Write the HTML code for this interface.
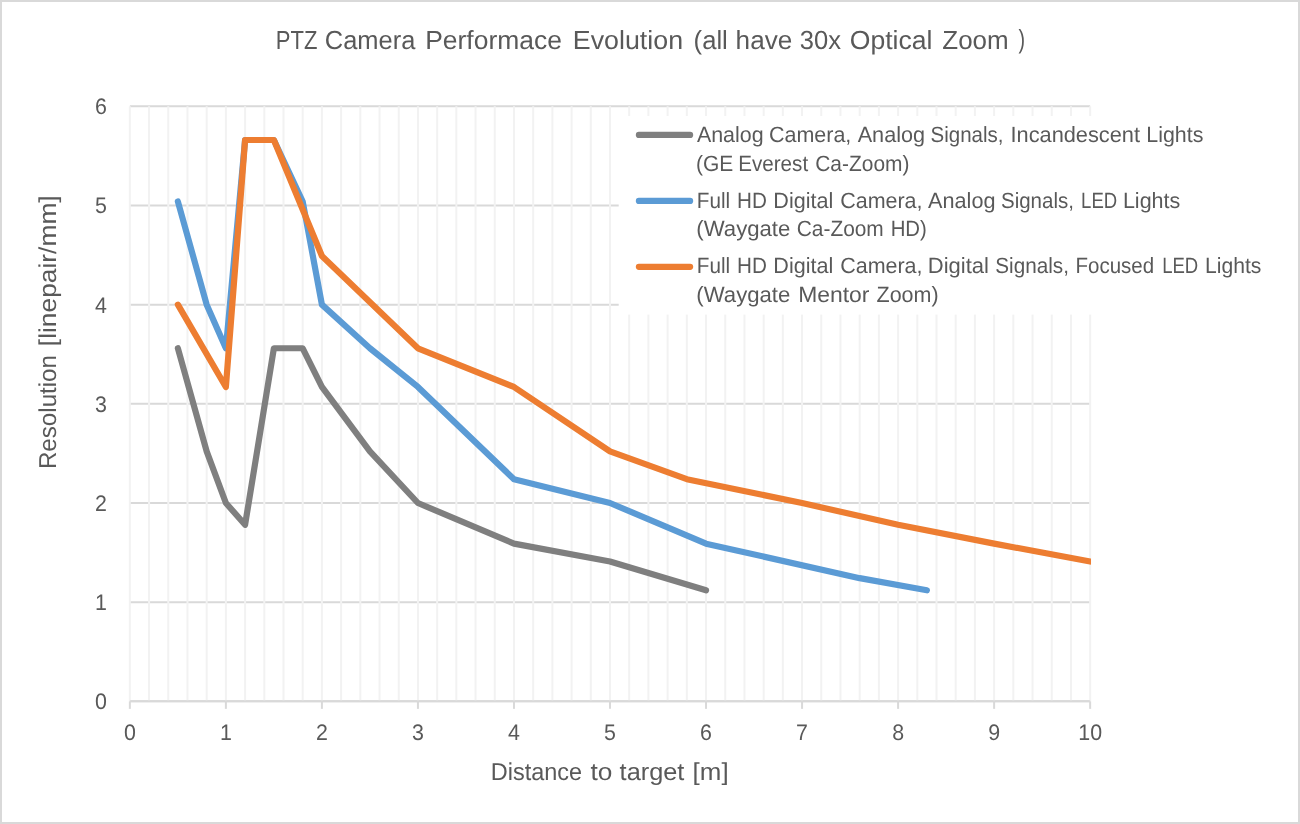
<!DOCTYPE html>
<html><head><meta charset="utf-8"><style>
html,body{margin:0;padding:0;background:#fff;}
body{width:1300px;height:824px;overflow:hidden;}
svg{display:block;will-change:transform;}
text{font-family:"Liberation Sans",sans-serif;fill:#595959;text-rendering:geometricPrecision;}
</style></head><body>
<svg width="1300" height="824" viewBox="0 0 1300 824">
<rect x="0" y="0" width="1300" height="824" fill="#d9d9d9"/>
<rect x="2" y="2" width="1296" height="820" fill="#ffffff"/>
<line x1="129.85" y1="701.35" x2="1090.15" y2="701.35" stroke="#d9d9d9" stroke-width="2"/>
<line x1="129.85" y1="602.17" x2="1090.15" y2="602.17" stroke="#d9d9d9" stroke-width="2"/>
<line x1="129.85" y1="502.99" x2="1090.15" y2="502.99" stroke="#d9d9d9" stroke-width="2"/>
<line x1="129.85" y1="403.81" x2="1090.15" y2="403.81" stroke="#d9d9d9" stroke-width="2"/>
<line x1="129.85" y1="304.63" x2="1090.15" y2="304.63" stroke="#d9d9d9" stroke-width="2"/>
<line x1="129.85" y1="205.45" x2="1090.15" y2="205.45" stroke="#d9d9d9" stroke-width="2"/>
<line x1="129.85" y1="106.27" x2="1090.15" y2="106.27" stroke="#d9d9d9" stroke-width="2"/>
<line x1="129.85" y1="106.27" x2="129.85" y2="701.35" stroke="#f2f2f2" stroke-width="2"/>
<line x1="149.06" y1="106.27" x2="149.06" y2="701.35" stroke="#f2f2f2" stroke-width="2"/>
<line x1="168.26" y1="106.27" x2="168.26" y2="701.35" stroke="#f2f2f2" stroke-width="2"/>
<line x1="187.47" y1="106.27" x2="187.47" y2="701.35" stroke="#f2f2f2" stroke-width="2"/>
<line x1="206.67" y1="106.27" x2="206.67" y2="701.35" stroke="#f2f2f2" stroke-width="2"/>
<line x1="225.88" y1="106.27" x2="225.88" y2="701.35" stroke="#f2f2f2" stroke-width="2"/>
<line x1="245.09" y1="106.27" x2="245.09" y2="701.35" stroke="#f2f2f2" stroke-width="2"/>
<line x1="264.29" y1="106.27" x2="264.29" y2="701.35" stroke="#f2f2f2" stroke-width="2"/>
<line x1="283.50" y1="106.27" x2="283.50" y2="701.35" stroke="#f2f2f2" stroke-width="2"/>
<line x1="302.70" y1="106.27" x2="302.70" y2="701.35" stroke="#f2f2f2" stroke-width="2"/>
<line x1="321.91" y1="106.27" x2="321.91" y2="701.35" stroke="#f2f2f2" stroke-width="2"/>
<line x1="341.12" y1="106.27" x2="341.12" y2="701.35" stroke="#f2f2f2" stroke-width="2"/>
<line x1="360.32" y1="106.27" x2="360.32" y2="701.35" stroke="#f2f2f2" stroke-width="2"/>
<line x1="379.53" y1="106.27" x2="379.53" y2="701.35" stroke="#f2f2f2" stroke-width="2"/>
<line x1="398.73" y1="106.27" x2="398.73" y2="701.35" stroke="#f2f2f2" stroke-width="2"/>
<line x1="417.94" y1="106.27" x2="417.94" y2="701.35" stroke="#f2f2f2" stroke-width="2"/>
<line x1="437.15" y1="106.27" x2="437.15" y2="701.35" stroke="#f2f2f2" stroke-width="2"/>
<line x1="456.35" y1="106.27" x2="456.35" y2="701.35" stroke="#f2f2f2" stroke-width="2"/>
<line x1="475.56" y1="106.27" x2="475.56" y2="701.35" stroke="#f2f2f2" stroke-width="2"/>
<line x1="494.76" y1="106.27" x2="494.76" y2="701.35" stroke="#f2f2f2" stroke-width="2"/>
<line x1="513.97" y1="106.27" x2="513.97" y2="701.35" stroke="#f2f2f2" stroke-width="2"/>
<line x1="533.18" y1="106.27" x2="533.18" y2="701.35" stroke="#f2f2f2" stroke-width="2"/>
<line x1="552.38" y1="106.27" x2="552.38" y2="701.35" stroke="#f2f2f2" stroke-width="2"/>
<line x1="571.59" y1="106.27" x2="571.59" y2="701.35" stroke="#f2f2f2" stroke-width="2"/>
<line x1="590.79" y1="106.27" x2="590.79" y2="701.35" stroke="#f2f2f2" stroke-width="2"/>
<line x1="610.00" y1="106.27" x2="610.00" y2="701.35" stroke="#f2f2f2" stroke-width="2"/>
<line x1="629.21" y1="106.27" x2="629.21" y2="701.35" stroke="#f2f2f2" stroke-width="2"/>
<line x1="648.41" y1="106.27" x2="648.41" y2="701.35" stroke="#f2f2f2" stroke-width="2"/>
<line x1="667.62" y1="106.27" x2="667.62" y2="701.35" stroke="#f2f2f2" stroke-width="2"/>
<line x1="686.82" y1="106.27" x2="686.82" y2="701.35" stroke="#f2f2f2" stroke-width="2"/>
<line x1="706.03" y1="106.27" x2="706.03" y2="701.35" stroke="#f2f2f2" stroke-width="2"/>
<line x1="725.24" y1="106.27" x2="725.24" y2="701.35" stroke="#f2f2f2" stroke-width="2"/>
<line x1="744.44" y1="106.27" x2="744.44" y2="701.35" stroke="#f2f2f2" stroke-width="2"/>
<line x1="763.65" y1="106.27" x2="763.65" y2="701.35" stroke="#f2f2f2" stroke-width="2"/>
<line x1="782.85" y1="106.27" x2="782.85" y2="701.35" stroke="#f2f2f2" stroke-width="2"/>
<line x1="802.06" y1="106.27" x2="802.06" y2="701.35" stroke="#f2f2f2" stroke-width="2"/>
<line x1="821.27" y1="106.27" x2="821.27" y2="701.35" stroke="#f2f2f2" stroke-width="2"/>
<line x1="840.47" y1="106.27" x2="840.47" y2="701.35" stroke="#f2f2f2" stroke-width="2"/>
<line x1="859.68" y1="106.27" x2="859.68" y2="701.35" stroke="#f2f2f2" stroke-width="2"/>
<line x1="878.88" y1="106.27" x2="878.88" y2="701.35" stroke="#f2f2f2" stroke-width="2"/>
<line x1="898.09" y1="106.27" x2="898.09" y2="701.35" stroke="#f2f2f2" stroke-width="2"/>
<line x1="917.30" y1="106.27" x2="917.30" y2="701.35" stroke="#f2f2f2" stroke-width="2"/>
<line x1="936.50" y1="106.27" x2="936.50" y2="701.35" stroke="#f2f2f2" stroke-width="2"/>
<line x1="955.71" y1="106.27" x2="955.71" y2="701.35" stroke="#f2f2f2" stroke-width="2"/>
<line x1="974.91" y1="106.27" x2="974.91" y2="701.35" stroke="#f2f2f2" stroke-width="2"/>
<line x1="994.12" y1="106.27" x2="994.12" y2="701.35" stroke="#f2f2f2" stroke-width="2"/>
<line x1="1013.33" y1="106.27" x2="1013.33" y2="701.35" stroke="#f2f2f2" stroke-width="2"/>
<line x1="1032.53" y1="106.27" x2="1032.53" y2="701.35" stroke="#f2f2f2" stroke-width="2"/>
<line x1="1051.74" y1="106.27" x2="1051.74" y2="701.35" stroke="#f2f2f2" stroke-width="2"/>
<line x1="1070.94" y1="106.27" x2="1070.94" y2="701.35" stroke="#f2f2f2" stroke-width="2"/>
<line x1="1090.15" y1="106.27" x2="1090.15" y2="701.35" stroke="#f2f2f2" stroke-width="2"/>
<line x1="129.85" y1="701.35" x2="1090.15" y2="701.35" stroke="#d9d9d9" stroke-width="2"/>
<line x1="129.85" y1="701.35" x2="129.85" y2="708.85" stroke="#d9d9d9" stroke-width="2"/>
<line x1="225.88" y1="701.35" x2="225.88" y2="708.85" stroke="#d9d9d9" stroke-width="2"/>
<line x1="321.91" y1="701.35" x2="321.91" y2="708.85" stroke="#d9d9d9" stroke-width="2"/>
<line x1="417.94" y1="701.35" x2="417.94" y2="708.85" stroke="#d9d9d9" stroke-width="2"/>
<line x1="513.97" y1="701.35" x2="513.97" y2="708.85" stroke="#d9d9d9" stroke-width="2"/>
<line x1="610.00" y1="701.35" x2="610.00" y2="708.85" stroke="#d9d9d9" stroke-width="2"/>
<line x1="706.03" y1="701.35" x2="706.03" y2="708.85" stroke="#d9d9d9" stroke-width="2"/>
<line x1="802.06" y1="701.35" x2="802.06" y2="708.85" stroke="#d9d9d9" stroke-width="2"/>
<line x1="898.09" y1="701.35" x2="898.09" y2="708.85" stroke="#d9d9d9" stroke-width="2"/>
<line x1="994.12" y1="701.35" x2="994.12" y2="708.85" stroke="#d9d9d9" stroke-width="2"/>
<line x1="1090.15" y1="701.35" x2="1090.15" y2="708.85" stroke="#d9d9d9" stroke-width="2"/>
<rect x="618.7" y="116" width="660" height="198.6" fill="#ffffff"/>
<defs><clipPath id="pc"><rect x="0" y="0" width="1091" height="824"/></clipPath></defs>
<g stroke-linecap="round" stroke-linejoin="round" fill="none" stroke-width="6.2">
<g clip-path="url(#pc)">
<polyline points="177.87,348.27 206.67,451.42 225.88,502.99 245.09,524.81 273.89,348.27 302.70,348.27 321.91,386.95 369.92,451.42 417.94,502.99 513.97,543.65 610.00,561.51 706.03,590.27" stroke="#7f7f7f"/>
<polyline points="177.87,201.48 206.67,304.63 225.88,348.27 245.09,139.99 273.89,139.99 302.70,201.48 321.91,304.63 369.92,348.27 417.94,386.95 513.97,479.19 610.00,502.99 706.03,543.65 859.68,578.17 926.90,590.27" stroke="#5b9bd5"/>
<polyline points="177.87,304.63 225.88,386.95 245.09,139.99 273.89,139.99 321.91,256.03 417.94,348.27 513.97,386.95 610.00,451.42 686.82,479.19 802.06,502.99 898.09,524.81 994.12,543.65 1090.15,561.51" stroke="#ed7d31"/>
</g>
<line x1="638.9" y1="134.9" x2="690.1" y2="134.9" stroke="#7f7f7f"/>
<line x1="638.9" y1="200.9" x2="690.1" y2="200.9" stroke="#5b9bd5"/>
<line x1="638.9" y1="266.8" x2="690.1" y2="266.8" stroke="#ed7d31"/>
</g>
<g font-size="22.5">
<text transform="translate(107,709.25) scale(0.95,1)" text-anchor="end">0</text>
<text transform="translate(107,610.07) scale(0.95,1)" text-anchor="end">1</text>
<text transform="translate(107,510.89) scale(0.95,1)" text-anchor="end">2</text>
<text transform="translate(107,411.71) scale(0.95,1)" text-anchor="end">3</text>
<text transform="translate(107,312.53) scale(0.95,1)" text-anchor="end">4</text>
<text transform="translate(107,213.35) scale(0.95,1)" text-anchor="end">5</text>
<text transform="translate(107,114.17) scale(0.95,1)" text-anchor="end">6</text>
<text transform="translate(129.85,739.6) scale(0.95,1)" text-anchor="middle">0</text>
<text transform="translate(225.88,739.6) scale(0.95,1)" text-anchor="middle">1</text>
<text transform="translate(321.91,739.6) scale(0.95,1)" text-anchor="middle">2</text>
<text transform="translate(417.94,739.6) scale(0.95,1)" text-anchor="middle">3</text>
<text transform="translate(513.97,739.6) scale(0.95,1)" text-anchor="middle">4</text>
<text transform="translate(610.00,739.6) scale(0.95,1)" text-anchor="middle">5</text>
<text transform="translate(706.03,739.6) scale(0.95,1)" text-anchor="middle">6</text>
<text transform="translate(802.06,739.6) scale(0.95,1)" text-anchor="middle">7</text>
<text transform="translate(898.09,739.6) scale(0.95,1)" text-anchor="middle">8</text>
<text transform="translate(994.12,739.6) scale(0.95,1)" text-anchor="middle">9</text>
<text transform="translate(1090.15,739.6) scale(0.95,1)" text-anchor="middle">10</text>
</g>
<text x="275.86" y="48.9" font-size="26.2" textLength="41.64" lengthAdjust="spacingAndGlyphs">PTZ</text>
<text x="324.83" y="48.9" font-size="26.2" textLength="90.51" lengthAdjust="spacingAndGlyphs">Camera</text>
<text x="425.19" y="48.9" font-size="26.2" textLength="136.67" lengthAdjust="spacingAndGlyphs">Performace</text>
<text x="572.78" y="48.9" font-size="26.2" textLength="110.28" lengthAdjust="spacingAndGlyphs">Evolution</text>
<text x="693.62" y="48.9" font-size="26.2" textLength="34.18" lengthAdjust="spacingAndGlyphs">(all</text>
<text x="735.60" y="48.9" font-size="26.2" textLength="56.69" lengthAdjust="spacingAndGlyphs">have</text>
<text x="799.82" y="48.9" font-size="26.2" textLength="41.20" lengthAdjust="spacingAndGlyphs">30x</text>
<text x="849.78" y="48.9" font-size="26.2" textLength="82.74" lengthAdjust="spacingAndGlyphs">Optical</text>
<text x="942.30" y="48.9" font-size="26.2" textLength="66.34" lengthAdjust="spacingAndGlyphs">Zoom</text>
<text transform="translate(1021.80,47.9) scale(0.75,1)" text-anchor="middle" font-size="26.2">)</text>
<text x="696.90" y="141.8" font-size="22" textLength="66.70" lengthAdjust="spacingAndGlyphs">Analog</text>
<text x="769.02" y="141.8" font-size="22" textLength="82.30" lengthAdjust="spacingAndGlyphs">Camera,</text>
<text x="857.70" y="141.8" font-size="22" textLength="67.41" lengthAdjust="spacingAndGlyphs">Analog</text>
<text x="930.57" y="141.8" font-size="22" textLength="72.93" lengthAdjust="spacingAndGlyphs">Signals,</text>
<text x="1010.51" y="141.8" font-size="22" textLength="129.47" lengthAdjust="spacingAndGlyphs">Incandescent</text>
<text x="1146.33" y="141.8" font-size="22" textLength="57.07" lengthAdjust="spacingAndGlyphs">Lights</text>
<text x="695.95" y="170.9" font-size="22" textLength="37.27" lengthAdjust="spacingAndGlyphs">(GE</text>
<text x="738.26" y="170.9" font-size="22" textLength="69.86" lengthAdjust="spacingAndGlyphs">Everest</text>
<text x="815.25" y="170.9" font-size="22" textLength="94.22" lengthAdjust="spacingAndGlyphs">Ca-Zoom)</text>
<text x="696.76" y="207.6" font-size="22" textLength="33.37" lengthAdjust="spacingAndGlyphs">Full</text>
<text x="737.06" y="207.6" font-size="22" textLength="29.87" lengthAdjust="spacingAndGlyphs">HD</text>
<text x="773.32" y="207.6" font-size="22" textLength="59.92" lengthAdjust="spacingAndGlyphs">Digital</text>
<text x="840.22" y="207.6" font-size="22" textLength="82.30" lengthAdjust="spacingAndGlyphs">Camera,</text>
<text x="928.10" y="207.6" font-size="22" textLength="67.41" lengthAdjust="spacingAndGlyphs">Analog</text>
<text x="1000.97" y="207.6" font-size="22" textLength="72.93" lengthAdjust="spacingAndGlyphs">Signals,</text>
<text x="1081.06" y="207.6" font-size="22" textLength="36.12" lengthAdjust="spacingAndGlyphs">LED</text>
<text x="1122.92" y="207.6" font-size="22" textLength="57.38" lengthAdjust="spacingAndGlyphs">Lights</text>
<text x="696.39" y="236.4" font-size="22" textLength="93.94" lengthAdjust="spacingAndGlyphs">(Waygate</text>
<text x="796.75" y="236.4" font-size="22" textLength="87.00" lengthAdjust="spacingAndGlyphs">Ca-Zoom</text>
<text x="890.68" y="236.4" font-size="22" textLength="36.15" lengthAdjust="spacingAndGlyphs">HD)</text>
<text x="696.76" y="273.4" font-size="22" textLength="33.37" lengthAdjust="spacingAndGlyphs">Full</text>
<text x="737.06" y="273.4" font-size="22" textLength="29.87" lengthAdjust="spacingAndGlyphs">HD</text>
<text x="773.32" y="273.4" font-size="22" textLength="59.92" lengthAdjust="spacingAndGlyphs">Digital</text>
<text x="840.22" y="273.4" font-size="22" textLength="82.30" lengthAdjust="spacingAndGlyphs">Camera,</text>
<text x="927.80" y="273.4" font-size="22" textLength="61.14" lengthAdjust="spacingAndGlyphs">Digital</text>
<text x="995.26" y="273.4" font-size="22" textLength="73.65" lengthAdjust="spacingAndGlyphs">Signals,</text>
<text x="1075.57" y="273.4" font-size="22" textLength="78.60" lengthAdjust="spacingAndGlyphs">Focused</text>
<text x="1162.16" y="273.4" font-size="22" textLength="36.12" lengthAdjust="spacingAndGlyphs">LED</text>
<text x="1205.04" y="273.4" font-size="22" textLength="56.35" lengthAdjust="spacingAndGlyphs">Lights</text>
<text x="696.39" y="302.3" font-size="22" textLength="93.94" lengthAdjust="spacingAndGlyphs">(Waygate</text>
<text x="798.16" y="302.3" font-size="22" textLength="71.30" lengthAdjust="spacingAndGlyphs">Mentor</text>
<text x="876.50" y="302.3" font-size="22" textLength="62.15" lengthAdjust="spacingAndGlyphs">Zoom)</text>
<text x="490.74" y="780.1" font-size="24.4" textLength="91.33" lengthAdjust="spacingAndGlyphs">Distance</text>
<text x="590.40" y="780.1" font-size="24.4" textLength="21.87" lengthAdjust="spacingAndGlyphs">to</text>
<text x="619.60" y="780.1" font-size="24.4" textLength="64.75" lengthAdjust="spacingAndGlyphs">target</text>
<text x="692.64" y="780.1" font-size="24.4" textLength="35.99" lengthAdjust="spacingAndGlyphs">[m]</text>
<text transform="translate(56.0,0) rotate(-90)" x="-469.09" y="0" font-size="24.4" textLength="114.04" lengthAdjust="spacingAndGlyphs">Resolution</text>
<text transform="translate(56.0,0) rotate(-90)" x="-346.18" y="0" font-size="24.4" textLength="150.84" lengthAdjust="spacingAndGlyphs">[linepair/mm]</text>
</svg>
</body></html>
